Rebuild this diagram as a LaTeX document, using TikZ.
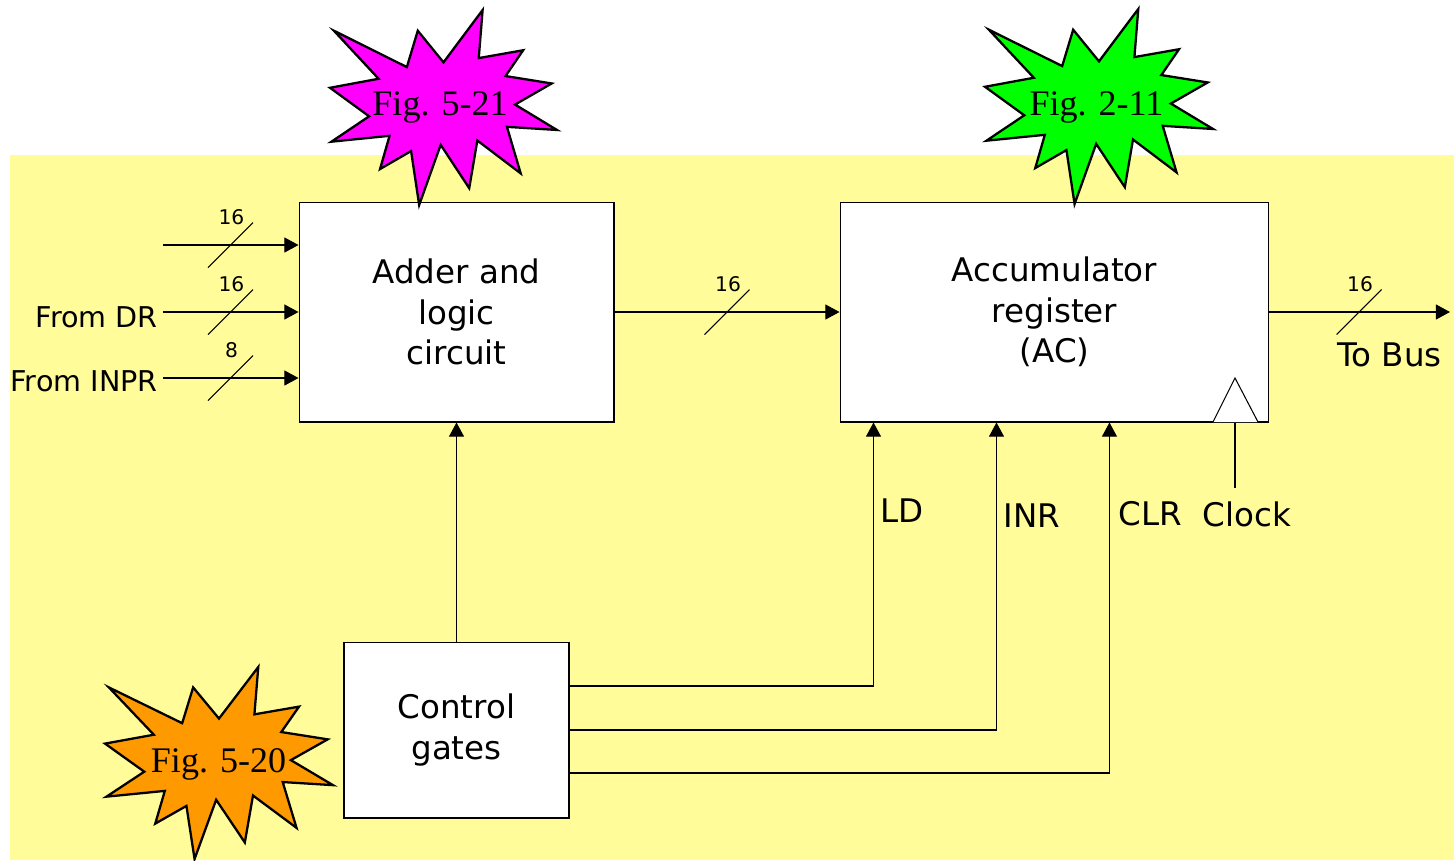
\documentclass[tikz,border=0pt]{standalone}
\usepackage{fontspec}
\setmainfont{DejaVu Sans}
\newfontfamily\figfont{Liberation Serif}
\usetikzlibrary{arrows.meta,calc}

\definecolor{paper}{RGB}{255,252,153}
\definecolor{sealpink}{RGB}{255,0,255}
\definecolor{sealgreen}{RGB}{0,255,0}
\definecolor{sealorange}{RGB}{255,153,0}

% Irregular starburst: #1,#2 = top-left corner, #3,#4 = width, height, #5 = fill
\newcommand\irrseal[5]{%
  \begin{scope}[shift={(#1,#2)}, xscale=#3/216, yscale=#4/216]
    \filldraw[fill=#5, draw=black, line width=1.3pt, line join=miter, miter limit=20]
      (108,58) -- (145.22,0) -- (141.55,53.25) -- (183.80,44.57) -- (167.02,73.15)
      -- (210.97,81.37) -- (176.07,104.75) -- (216,132.90) -- (168.37,129.42)
      -- (181.45,180.95) -- (140.20,144.57) -- (132.47,197.37) -- (105.32,149.35)
      -- (84.85,216) -- (77.15,156.27) -- (47.62,176.17) -- (56.67,139.37)
      -- (1.35,145.87) -- (37.22,117.75) -- (0,86.15) -- (46.27,76.17)
      -- (3.70,22.95) -- (73.12,63.20) -- (83.52,22.95) -- cycle;
  \end{scope}}

% Bus-width slash with its label: #1,#2 = crossing point, #3 = node name, #4 = text
\newcommand\buswidth[4]{%
  \draw[wire] (#1-22.5,#2+22.5) -- (#1+22.5,#2-22.5);
  \node[widthlbl] (#3) at (#1+1,#2-28) {#4};}

\begin{document}
\begin{tikzpicture}[x=0.02cm,y=-0.02cm,
  box/.style={draw=black, fill=white, line width=0.6pt, inner sep=0pt, align=center,
              font=\fontsize{18.5}{23.2}\selectfont},
  wire/.style={line width=0.6pt},
  arr/.style={wire, -{Triangle[length=8pt,width=8.5pt]}},
  sig/.style={font=\fontsize{18.5}{20}\selectfont, inner sep=0pt},
  src/.style={font=\fontsize{16.3}{20}\selectfont, inner sep=0pt},
  widthlbl/.style={font=\fontsize{11.5}{12}\selectfont, inner sep=0pt},
  figlbl/.style={font=\figfont\fontsize{20.5}{24}\selectfont, inner sep=0pt, anchor=base}]

  \useasboundingbox (0,0) rectangle (1454,860);
  \fill[white] (0,0) rectangle (1454,860);
  \fill[paper] (10,155) rectangle (1454,860);

  % blocks
  \node[box, minimum width=6.3cm, minimum height=4.4cm] (alc) at (456.5,312)
    {Adder and\\logic\\circuit};
  \node[box, minimum width=8.58cm, minimum height=4.4cm] (ac) at (1054.5,312)
    {Accumulator\\register\\(AC)};
  \node[box, minimum width=4.5cm, minimum height=3.52cm] (cg) at (456.5,730)
    {Control\\gates};

  % inputs to the adder
  \coordinate (i1) at (163,245);
  \coordinate (i2) at (163,312);
  \coordinate (i3) at (163,378);
  \draw[arr] (i1) -- (i1 -| alc.west);
  \draw[arr] (i2) -- (i2 -| alc.west);
  \draw[arr] (i3) -- (i3 -| alc.west);
  \buswidth{230.5}{245}{w1}{16}
  \buswidth{230.5}{312}{w2}{16}
  \buswidth{230.5}{378}{w3}{8}
  \node[src, anchor=east] (fromdr) at (158,317.5) {From DR};
  \node[src, anchor=east] (frominpr) at (158,381) {From INPR};

  % data path
  \draw[arr] (alc.east) -- (ac.west);
  \buswidth{727}{312}{w4}{16}
  \coordinate (bus) at (1450,312);
  \draw[arr] (ac.east) -- (bus);
  \buswidth{1359}{312}{w5}{16}
  \node[sig, anchor=west] (tobus) at (1337,355) {To Bus};

  % control
  \draw[arr] (cg.north) -- (alc.south);
  \draw[arr] ([yshift=0.88cm]cg.east) -| ([xshift=0.68cm]ac.south west);
  \draw[arr] (cg.east) -| ([xshift=3.14cm]ac.south west);
  \draw[arr] ([yshift=-0.86cm]cg.east) -| ([xshift=5.4cm]ac.south west);
  \node[sig] (ld) at (902,511) {LD};
  \node[sig] (inr) at (1032,516) {INR};
  \node[sig] (clr) at (1150,514) {CLR};
  \node[sig] (clock) at (1247,514) {Clock};

  % clock input
  \draw[wire, fill=white] (1213,422) -- (1235,378) -- (1258,422);
  \coordinate (clk) at (1235,488);
  \draw[wire] (clk) -- (clk |- ac.south);

  % references
  \irrseal{330}{10}{227}{195}{sealpink}
  \irrseal{985}{9}{228}{195}{sealgreen}
  \irrseal{105}{667}{228}{192}{sealorange}
  \node[figlbl] (f521) at (440,115) {Fig. 5-21};
  \node[figlbl] (f211) at (1096.5,115) {Fig. 2-11};
  \node[figlbl] (f520) at (218.5,772.5) {Fig. 5-20};
\end{tikzpicture}
\end{document}
